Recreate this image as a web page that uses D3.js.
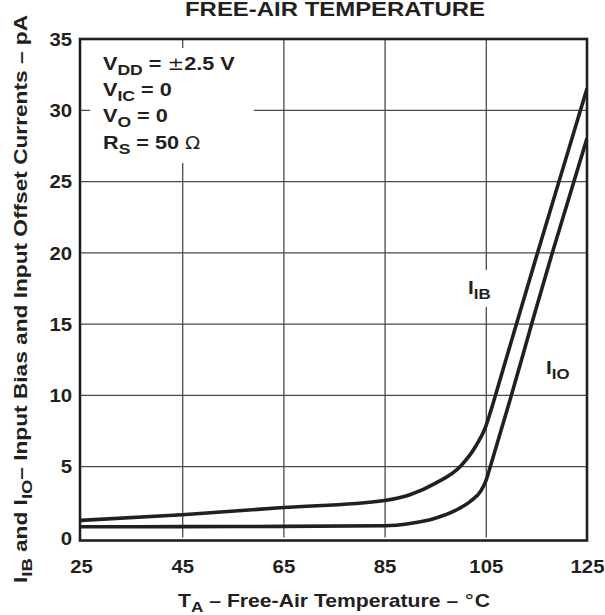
<!DOCTYPE html>
<html><head><meta charset="utf-8">
<script src="https://cdn.jsdelivr.net/npm/d3@7"></script>
<style>
body{margin:0;background:#fff}
text{font-family:"Liberation Sans",Arial,Helvetica,sans-serif;font-weight:bold;fill:#231f20}
.sym{font-family:"DejaVu Sans","Liberation Serif",serif;font-weight:normal}
</style>
</head><body><svg id="c" width="605" height="615"></svg>
<script>
// ---- data ----
const xTicks = [25, 45, 65, 85, 105, 125];
const yTicks = [0, 5, 10, 15, 20, 25, 30, 35];
const tempIB = [25, 45, 65, 85, 90, 95, 100, 103, 105, 106, 108, 111, 115, 120, 125];
const valIB  = [1.2, 1.6, 2.1, 2.6, 3.0, 3.8, 5.0, 6.4, 7.8, 8.9, 11.3, 14.9, 19.7, 25.6, 31.5];
const tempIO = [25, 45, 65, 85, 90, 95, 99, 102, 104, 105, 106, 108, 110, 114, 118, 125];
const valIO  = [0.75, 0.76, 0.78, 0.82, 0.98, 1.35, 1.9, 2.55, 3.25, 3.95, 5.1, 7.5, 9.9, 14.9, 19.8, 28.0];
const conditions = [
  {main: "V", sub: "DD", rest: " = ", sym: "±", tail: "2.5 V"},
  {main: "V", sub: "IC", rest: " = 0", sym: "", tail: ""},
  {main: "V", sub: "O",  rest: " = 0", sym: "", tail: ""},
  {main: "R", sub: "S",  rest: " = 50 ", sym: "Ω", tail: ""}
];

const svg = d3.select("#c");
const L = 81, R = 587, T = 38.5, B = 537.5;
const x = d3.scaleLinear().domain([25, 125]).range([L, R]);
const y = d3.scaleLinear().domain([0, 35]).range([B, T]);
const FS = 18.5;

function widen(sel, k) {
  sel.each(function () {
    const w = this.getComputedTextLength();
    d3.select(this).attr("textLength", w * k).attr("lengthAdjust", "spacingAndGlyphs");
  });
}

// grid
const gv = svg.append("g").attr("transform", `translate(0,${B})`)
  .call(d3.axisBottom(x).tickValues(xTicks.slice(1, -1)).tickSize(-(B - T)).tickFormat(""));
gv.select(".domain").remove();
gv.selectAll("line").attr("stroke", "#4a4a4a").attr("stroke-width", 1.3);
const gh = svg.append("g").attr("transform", `translate(${L},0)`)
  .call(d3.axisLeft(y).tickValues(yTicks.slice(1, -1)).tickSize(-(R - L)).tickFormat(""));
gh.select(".domain").remove();
gh.selectAll("line").attr("stroke", "#4a4a4a").attr("stroke-width", 1.3);

// white masks behind labels
svg.append("rect").attr("x", 90).attr("y", 48).attr("width", 164).attr("height", 115).attr("fill", "#fff");
svg.append("rect").attr("x", 478).attr("y", 270).attr("width", 16).attr("height", 37).attr("fill", "#fff");

// tick labels
const ax = svg.append("g").attr("transform", `translate(0,${B})`)
  .call(d3.axisBottom(x).tickValues(xTicks).tickSize(0).tickPadding(22).tickFormat(d3.format("d")));
ax.select(".domain").remove();
ax.selectAll("text").attr("font-size", FS);
const ay = svg.append("g").attr("transform", `translate(${L},0)`)
  .call(d3.axisLeft(y).tickValues(yTicks).tickSize(0).tickPadding(9).tickFormat(d3.format("d")));
ay.select(".domain").remove();
ay.selectAll("text").attr("font-size", FS).attr("dy", "0.36em");
svg.selectAll(".tick text").attr("fill", "#231f20");
ax.attr("font-family", null); ay.attr("font-family", null);
gv.attr("font-family", null); gh.attr("font-family", null);
widen(ax.selectAll("text"), 1.1);
widen(ay.selectAll("text"), 1.1);

// curves
svg.append("clipPath").attr("id", "pc").append("rect")
  .attr("x", L).attr("y", T).attr("width", R - L).attr("height", B - T + 3);
const line = d3.line().curve(d3.curveMonotoneX).x(d => x(d[0])).y(d => y(d[1]));
const g = svg.append("g").attr("clip-path", "url(#pc)");
g.append("path").datum(d3.zip(tempIB, valIB)).attr("d", line)
  .attr("fill", "none").attr("stroke", "#231f20").attr("stroke-width", 3.6);
g.append("path").datum(d3.zip(tempIO, valIO)).attr("d", line)
  .attr("fill", "none").attr("stroke", "#231f20").attr("stroke-width", 3.6);

// frame
svg.append("rect").attr("x", L - 1).attr("y", T + 0.5).attr("width", R - L + 1).attr("height", B - T + 2.5)
  .attr("fill", "none").attr("stroke", "#231f20").attr("stroke-width", 2.6);

// conditions
conditions.forEach((c, i) => {
  const t = svg.append("text").attr("class", "cond").attr("x", 103).attr("y", 70 + i * 26.2).attr("font-size", FS);
  t.append("tspan").text(c.main);
  t.append("tspan").attr("font-size", 15).attr("dy", 5).text(c.sub);
  t.append("tspan").attr("dy", -5).text(c.rest);
  if (c.sym) t.append("tspan").attr("class", "sym").attr("font-size", 17).text(c.sym);
  if (c.tail) t.append("tspan").text(c.tail);
});
widen(svg.selectAll("text.cond"), 1.17);

// curve labels
function lab(px, py, sub) {
  const t = svg.append("text").attr("class", "clab").attr("x", px).attr("y", py).attr("font-size", FS);
  t.append("tspan").text("I");
  t.append("tspan").attr("font-size", 15).attr("dy", 5).text(sub);
}
lab(468, 293.5, "IB");
lab(546, 373.5, "IO");
widen(svg.selectAll("text.clab"), 1.12);

// title (at the very top, as in the source)
svg.append("text").attr("x", 335).attr("y", 15.5).attr("text-anchor", "middle")
  .attr("font-size", 20).attr("textLength", 300).attr("lengthAdjust", "spacingAndGlyphs")
  .text("FREE-AIR TEMPERATURE");

// x title
const xt = svg.append("text").attr("x", 178).attr("y", 606.5).attr("font-size", FS)
  .attr("textLength", 312).attr("lengthAdjust", "spacingAndGlyphs");
xt.append("tspan").text("T");
xt.append("tspan").attr("font-size", 15).attr("dy", 5).text("A");
xt.append("tspan").attr("dy", -5).text(" – Free-Air Temperature – ");
xt.append("tspan").attr("class", "sym").text("°");
xt.append("tspan").text("C");

// y title
const yt = svg.append("text").attr("transform", "translate(27,299) rotate(-90)")
  .attr("text-anchor", "middle").attr("font-size", FS)
  .attr("textLength", 568).attr("lengthAdjust", "spacingAndGlyphs");
yt.append("tspan").text("I");
yt.append("tspan").attr("font-size", 15).attr("dy", 5).text("IB");
yt.append("tspan").attr("dy", -5).text(" and I");
yt.append("tspan").attr("font-size", 15).attr("dy", 5).text("IO");
yt.append("tspan").attr("dy", -5).text("– Input Bias and Input Offset Currents – pA");
</script>
</body></html>
